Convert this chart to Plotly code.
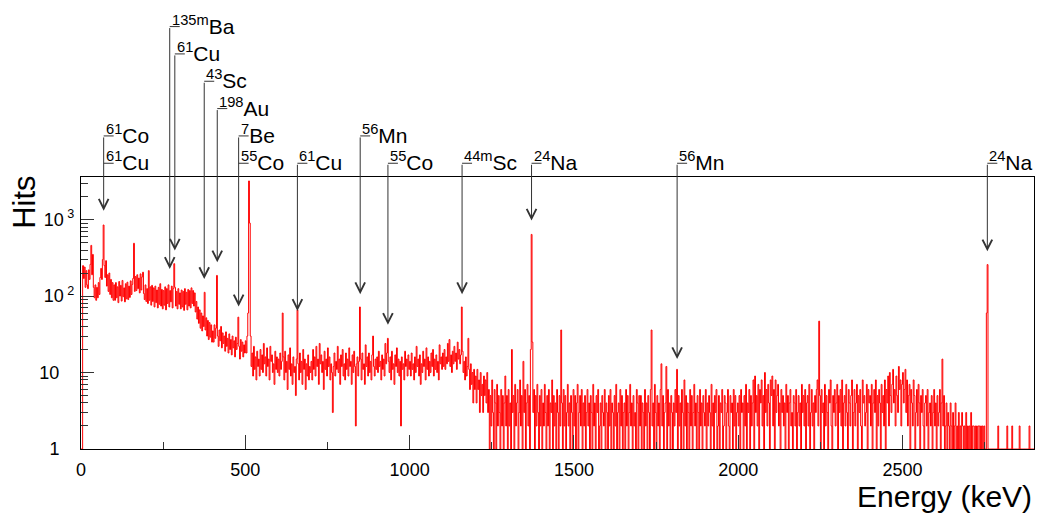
import numpy as np
import plotly.graph_objects as go

# spectrum, 2.5 keV per bin starting at 0 keV (hits per bin)
bin_width = 2.5
counts = [
    # 0-97.5 keV
    1, 1, 250, 170, 240, 130, 215, 140, 125, 220, 165, 260, 460, 190, 350, 130, 95, 140, 88, 130,
    95, 150, 105, 175, 230, 165, 300, 850, 250, 175, 290, 135, 190, 115, 200, 105, 165, 95, 150, 88,
    # 100-197.5
    140, 88, 150, 95, 132, 82, 155, 100, 138, 86, 160, 98, 128, 84, 145, 92, 152, 90, 135, 96,
    158, 105, 142, 170, 490, 115, 180, 118, 190, 125, 172, 110, 195, 120, 178, 205, 108, 90, 140, 85,
    # 200-297.5
    125, 80, 215, 88, 132, 76, 138, 85, 128, 72, 135, 82, 120, 70, 130, 78, 145, 74, 122, 68,
    118, 76, 132, 66, 125, 80, 140, 72, 118, 84, 135, 70, 125, 265, 130, 74, 115, 68, 125, 78,
    # 300-397.5
    110, 68, 120, 72, 115, 65, 125, 78, 112, 66, 122, 74, 118, 70, 128, 80, 118, 74, 110, 62,
    85, 50, 72, 44, 66, 38, 60, 35, 55, 40, 112, 36, 52, 30, 48, 27, 45, 29, 42, 25,
    # 400-497.5
    35, 25, 42, 28, 38, 186, 30, 22, 36, 26, 40, 21, 33, 24, 30, 19, 34, 22, 28, 18,
    32, 20, 27, 17, 30, 21, 26, 16, 29, 20, 24, 53, 22, 15, 27, 19, 25, 16, 23, 18,
    # 500-597.5
    26, 18, 30, 60, 3200, 900, 30, 12, 18, 9, 22, 11, 16, 8, 19, 12, 15, 9, 20, 11,
    17, 10, 24, 13, 16, 9, 21, 12, 15, 8, 22, 14, 17, 10, 13, 7, 19, 11, 16, 10,
    # 600-697.5
    15, 9, 18, 11, 14, 60, 16, 8, 19, 10, 14, 6, 17, 11, 21, 9, 13, 7, 16, 10,
    12, 5, 15, 66, 13, 8, 18, 10, 14, 7, 20, 11, 15, 6, 13, 9, 17, 8, 12, 10,
    # 700-797.5
    14, 8, 20, 11, 16, 9, 22, 12, 15, 7, 24, 13, 17, 10, 14, 6, 19, 11, 15, 9,
    21, 12, 16, 8, 13, 10, 3, 12, 18, 9, 14, 11, 22, 10, 15, 7, 17, 12, 20, 9,
    # 800-897.5
    13, 8, 18, 11, 15, 9, 21, 12, 14, 7, 17, 10, 19, 12, 2, 13, 16, 9, 14, 72,
    15, 8, 18, 11, 13, 7, 23, 12, 16, 9, 18, 10, 14, 8, 17, 30, 12, 9, 15, 11,
    # 900-997.5
    16, 10, 19, 12, 14, 8, 17, 11, 15, 9, 24, 13, 18, 28, 14, 10, 16, 8, 19, 11,
    13, 7, 17, 12, 21, 10, 15, 9, 14, 2, 16, 11, 13, 8, 19, 12, 15, 9, 17, 11,
    # 1000-1097.5
    14, 9, 18, 11, 13, 8, 16, 10, 22, 12, 15, 9, 17, 7, 13, 10, 19, 12, 15, 8,
    21, 11, 16, 9, 14, 10, 18, 12, 20, 9, 15, 11, 17, 10, 14, 8, 23, 13, 16, 11,
    # 1100-1197.5
    18, 12, 20, 11, 16, 13, 24, 14, 27, 12, 17, 10, 19, 13, 22, 14, 18, 11, 25, 15,
    20, 13, 17, 72, 19, 10, 14, 8, 16, 9, 12, 28, 11, 6, 13, 7, 10, 4, 11, 6,
    # 1200-1297.5
    9, 4, 11, 6, 8, 3, 10, 5, 7, 3, 9, 5, 8, 4, 10, 3, 6, 1, 5, 2,
    8, 3, 1, 6, 4, 1, 7, 2, 5, 3, 1, 6, 2, 5, 1, 4, 9, 2, 5, 1,
    # 1300-1397.5
    6, 2, 4, 1, 20, 3, 5, 1, 7, 2, 4, 6, 1, 3, 8, 2, 5, 1, 14, 3,
    6, 1, 4, 7, 2, 5, 1, 20, 640, 25, 3, 6, 1, 5, 2, 7, 3, 1, 5, 2,
    # 1400-1497.5
    6, 1, 4, 2, 7, 3, 1, 5, 2, 6, 1, 4, 3, 8, 1, 5, 2, 4, 1, 6,
    3, 1, 5, 2, 36, 4, 1, 6, 2, 5, 1, 3, 7, 2, 4, 1, 5, 3, 1, 6,
    # 1500-1597.5
    2, 5, 1, 4, 7, 1, 3, 5, 2, 6, 1, 4, 2, 5, 1, 3, 6, 2, 4, 1,
    5, 3, 1, 7, 2, 4, 1, 5, 3, 6, 1, 2, 4, 1, 5, 3, 2, 6, 1, 4,
    # 1600-1697.5
    3, 1, 5, 2, 6, 1, 4, 3, 1, 5, 2, 7, 1, 3, 4, 1, 6, 2, 5, 1,
    3, 4, 1, 6, 2, 5, 1, 3, 7, 2, 4, 1, 5, 2, 3, 1, 6, 4, 1, 5,
    # 1700-1797.5
    2, 5, 1, 4, 3, 1, 6, 2, 4, 1, 5, 3, 1, 6, 36, 2, 4, 1, 7, 3,
    1, 5, 2, 4, 1, 6, 13, 2, 5, 1, 3, 4, 12, 1, 6, 2, 4, 1, 5, 3,
    # 1800-1897.5
    1, 4, 2, 6, 3, 11, 1, 5, 2, 4, 1, 6, 3, 1, 8, 2, 5, 1, 4, 3,
    1, 6, 2, 5, 1, 3, 7, 2, 4, 1, 5, 3, 1, 6, 2, 4, 1, 5, 3, 2,
    # 1900-1997.5
    6, 1, 4, 2, 5, 3, 1, 7, 2, 4, 1, 5, 3, 6, 1, 2, 5, 1, 4, 3,
    6, 1, 2, 5, 4, 1, 3, 6, 2, 1, 5, 3, 4, 1, 6, 2, 5, 1, 3, 4,
    # 2000-2097.5
    2, 5, 1, 6, 3, 4, 1, 5, 2, 7, 1, 4, 3, 6, 1, 5, 2, 4, 8, 1,
    9, 3, 5, 2, 7, 1, 6, 4, 8, 2, 5, 1, 10, 3, 6, 2, 7, 4, 1, 8,
    # 2100-2197.5
    5, 9, 2, 6, 1, 8, 3, 5, 7, 2, 4, 1, 6, 3, 5, 2, 4, 1, 7, 3,
    5, 1, 4, 6, 2, 3, 1, 5, 4, 2, 6, 1, 3, 5, 2, 4, 1, 7, 3, 5,
    # 2200-2297.5
    2, 6, 1, 4, 5, 2, 7, 1, 3, 6, 2, 4, 1, 5, 3, 6, 8, 2, 47, 5,
    1, 6, 3, 4, 1, 7, 2, 5, 3, 1, 6, 4, 8, 2, 1, 5, 3, 6, 2, 4,
    # 2300-2397.5
    7, 1, 5, 3, 6, 2, 8, 1, 4, 5, 2, 7, 3, 1, 6, 4, 2, 5, 8, 1,
    3, 6, 2, 4, 7, 1, 5, 3, 6, 2, 1, 8, 4, 5, 2, 3, 7, 1, 6, 4,
    # 2400-2497.5
    5, 2, 7, 1, 4, 6, 3, 8, 1, 5, 2, 6, 4, 1, 7, 3, 5, 2, 8, 1,
    6, 4, 9, 2, 10, 5, 3, 7, 11, 4, 6, 2, 9, 5, 3, 12, 6, 8, 2, 7,
    # 2500-2597.5
    10, 4, 6, 11, 3, 8, 2, 5, 7, 1, 6, 4, 2, 8, 5, 1, 3, 6, 2, 7,
    4, 1, 5, 3, 6, 2, 1, 4, 5, 2, 6, 1, 3, 4, 2, 5, 1, 3, 6, 2,
    # 2600-2697.5
    4, 1, 5, 2, 3, 6, 1, 4, 15, 2, 5, 1, 2, 4, 1, 3, 2, 1, 4, 2,
    1, 3, 1, 2, 4, 1, 2, 1, 3, 1, 2, 1, 3, 2, 1, 2, 1, 3, 1, 2,
    # 2700-2797.5
    1, 2, 1, 3, 1, 2, 2, 1, 2, 1, 2, 1, 2, 2, 1, 2, 1, 2, 1, 2,
    1, 1, 60, 258, 1, 1, 1, 1, 1, 1, 1, 1, 1, 1, 1, 1, 2, 1, 1, 1,
    # 2800-2897.5
    1, 1, 1, 1, 1, 1, 1, 2, 1, 1, 1, 1, 1, 2, 1, 1, 1, 1, 1, 1,
    1, 1, 2, 1, 1, 1, 1, 1, 1, 1, 1, 1, 1, 1, 2, 1, 1, 1, 1, 1,
]

# identified lines: energy (keV), arrow tip (hits), labels top to bottom
line_energy = [69, 270, 285.5, 375, 414.6, 479.7, 658.5, 849.6, 934, 1159.6, 1371, 1814, 2758]
arrow_tip = [1310, 226, 393, 167, 276, 73, 64, 106, 42, 106, 970, 15, 385]
line_labels = [
    ["<sup>61</sup>Co", "<sup>61</sup>Cu"],
    ["<sup>135m</sup>Ba"],
    ["<sup>61</sup>Cu"],
    ["<sup>43</sup>Sc"],
    ["<sup>198</sup>Au"],
    ["<sup>7</sup>Be", "<sup>55</sup>Co"],
    ["<sup>61</sup>Cu"],
    ["<sup>56</sup>Mn"],
    ["<sup>55</sup>Co"],
    ["<sup>44m</sup>Sc"],
    ["<sup>24</sup>Na"],
    ["<sup>56</sup>Mn"],
    ["<sup>24</sup>Na"],
]
label_row = [1, 5, 4, 3, 2, 1, 0, 1, 0, 0, 0, 0, 0]  # row of the topmost label

FONT = "Liberation Sans, Arial, Helvetica, sans-serif"
GREY = "#333333"
Y_TOP = 3.557                     # log10 of the upper y limit
ROW0, ROW_STEP = 1.0505, 0.1005   # label rows, paper units above the frame

energy = np.arange(len(counts) + 1) * bin_width
fig = go.Figure(go.Scatter(
    x=energy, y=counts + [counts[-1]], mode="lines", line_shape="hv",
    line=dict(color="#ff0000", width=1), hoverinfo="skip",
))

for e, tip, labels, row in zip(line_energy, arrow_tip, line_labels, label_row):
    top = ROW0 + ROW_STEP * row
    # vertical line with open arrow head
    fig.add_annotation(x=e, y=np.log10(tip), xref="x", yref="y",
                       ax=e, ay=top * Y_TOP, axref="x", ayref="y",
                       text="", showarrow=True, arrowhead=5, arrowsize=1.9,
                       arrowwidth=1, arrowcolor=GREY, standoff=0)
    for k, lab in enumerate(labels):
        ly = top - ROW_STEP * k
        fig.add_shape(type="line", xref="x", yref="paper", xsizemode="pixel",
                      xanchor=e, x0=0, x1=10, y0=ly, y1=ly,
                      line=dict(color=GREY, width=1))
        fig.add_annotation(x=e, y=ly, xref="x", yref="paper", text=lab,
                           showarrow=False, xanchor="left", yanchor="middle",
                           xshift=0, yshift=2, font=dict(family=FONT, size=21, color="black"))

fig.add_annotation(x=-0.06, y=0.908, xref="paper", yref="paper", text="Hits",
                   textangle=-90, showarrow=False, xanchor="center", yanchor="middle",
                   font=dict(family=FONT, size=31, color="black"))
fig.add_annotation(x=1.0, y=-0.175, xref="paper", yref="paper", text="Energy (keV)",
                   showarrow=False, xanchor="right", yanchor="middle",
                   font=dict(family=FONT, size=30, color="black"))

nb = "\u00a0"
fig.update_layout(
    width=1037, height=516,
    margin=dict(l=81, r=3, t=177, b=67),
    paper_bgcolor="white", plot_bgcolor="white",
    showlegend=False, hovermode=False,
    font=dict(family=FONT, size=18, color="black"),
    xaxis=dict(range=[0, 2900], tickmode="array", tickvals=[0, 500, 1000, 1500, 2000, 2500],
               ticks="inside", ticklen=14, tickcolor=GREY, tickwidth=1,
               minor=dict(tickvals=[250, 750, 1250, 1750, 2250, 2750], ticks="inside",
                          ticklen=7, tickcolor=GREY),
               showline=True, linecolor="black", linewidth=1, mirror=True,
               showgrid=False, zeroline=False, ticklabelstandoff=4),
    yaxis=dict(type="log", range=[0, Y_TOP], tickmode="array",
               tickvals=[1, 10, 100, 1000],
               ticktext=["1" + nb * 3, "10" + nb * 3, "10<sup>" + nb + "2</sup>", "10<sup>" + nb + "3</sup>"],
               ticks="inside", ticklen=13, tickcolor=GREY, tickwidth=1,
               minor=dict(tickvals=[m * d for d in (1, 10, 100, 1000) for m in range(2, 10) if m * d < 3600],
                          ticks="inside", ticklen=7, tickcolor=GREY),
               showline=True, linecolor="black", linewidth=1, mirror=True,
               showgrid=False, zeroline=False, ticklabelstandoff=2),
)

# the page body has a default 8px margin; drop it so the figure sits at the corner
fig.write_html("out.html", config={"displayModeBar": False},
               post_script="document.body.style.margin='0';")
